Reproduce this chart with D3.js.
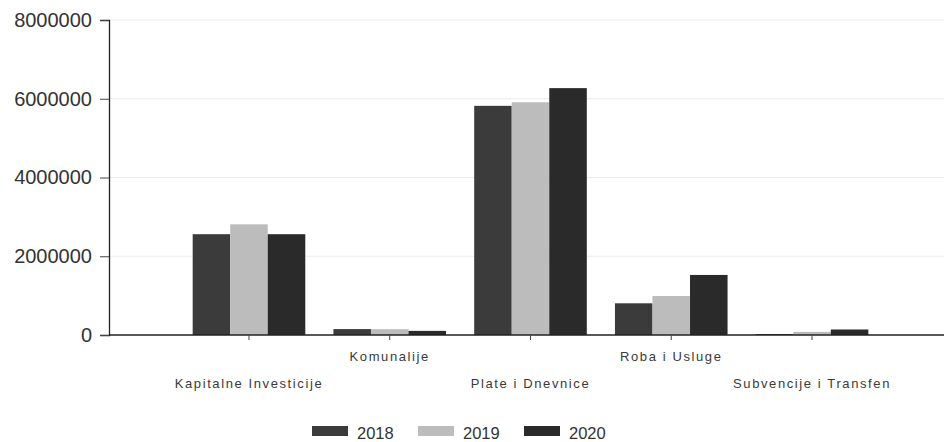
<!DOCTYPE html>
<html>
<head>
<meta charset="utf-8">
<script src="https://cdn.jsdelivr.net/npm/d3@7"></script>
<style>
  html, body { margin: 0; padding: 0; background: #fff; }
  svg { display: block; font-family: "Liberation Sans", Arial, sans-serif; }
</style>
</head>
<body>
<svg id="chart" width="944" height="442"></svg>
<script>
// Budget categories and yearly amounts
const categories = ["Kapitalne Investicije", "Komunalije", "Plate i Dnevnice", "Roba i Usluge", "Subvencije i Transfen"];
const years = ["2018", "2019", "2020"];
const values2018 = [2560000, 150000, 5820000, 805000, 25000];
const values2019 = [2810000, 148000, 5910000, 990000, 80000];
const values2020 = [2560000, 105000, 6270000, 1525000, 140000];
const yTicks = [0, 2000000, 4000000, 6000000, 8000000];
const colors = ["#3b3b3b", "#bcbcbc", "#2a2a2a"];

const seriesValues = [values2018, values2019, values2020];

const svg = d3.select("#chart");
const W = 944, H = 442;
const axisLeft = 109, axisBottom = 335, axisTop = 20;
const bandLeft = 178.6, bandRight = 882.4;

const x = d3.scaleBand().domain(categories).range([bandLeft, bandRight]).paddingInner(0.2).paddingOuter(0.1);
const xSub = d3.scaleBand().domain(years).range([0, x.bandwidth()]).padding(0);
const y = d3.scaleLinear().domain([0, 8000000]).range([axisBottom, axisTop]);

// faint horizontal gridlines
svg.append("g")
  .selectAll("line")
  .data(yTicks.filter(d => d > 0))
  .join("line")
  .attr("x1", axisLeft).attr("x2", W)
  .attr("y1", d => y(d)).attr("y2", d => y(d))
  .attr("stroke", "#ebebeb")
  .attr("stroke-width", 1.2);

// bars
const groups = svg.append("g")
  .selectAll("g")
  .data(categories)
  .join("g")
  .attr("transform", d => `translate(${x(d)},0)`);

groups.selectAll("rect")
  .data((c, i) => years.map((yr, k) => ({ yr, k, v: seriesValues[k][i] })))
  .join("rect")
  .attr("x", d => xSub(d.yr))
  .attr("width", xSub.bandwidth())
  .attr("y", d => y(d.v))
  .attr("height", d => axisBottom - y(d.v))
  .attr("fill", d => colors[d.k]);

// y axis
const yAxis = d3.axisLeft(y).tickValues(yTicks).tickFormat(d3.format("d")).tickSize(9).tickPadding(8);
const gy = svg.append("g").attr("transform", `translate(${axisLeft},0)`).call(yAxis);
gy.select(".domain").attr("stroke", "#222").attr("stroke-width", 1.3);
gy.selectAll(".tick line").attr("stroke", "#444");
gy.selectAll(".tick text")
  .attr("font-size", 20)
  .attr("fill", "#333")
  .attr("font-family", "'Liberation Sans', Arial, sans-serif");

// x axis (baseline spans the full width)
svg.append("line")
  .attr("x1", axisLeft).attr("x2", W)
  .attr("y1", axisBottom).attr("y2", axisBottom)
  .attr("stroke", "#222").attr("stroke-width", 1.5);

const xAxis = d3.axisBottom(x).tickSize(5).tickFormat("");
const gx = svg.append("g").attr("transform", `translate(0,${axisBottom})`).call(xAxis);
gx.select(".domain").remove();
gx.selectAll(".tick line").attr("stroke", "#444");

// staggered category labels
svg.append("g")
  .selectAll("text")
  .data(categories)
  .join("text")
  .attr("x", d => x(d) + x.bandwidth() / 2)
  .attr("y", (d, i) => i % 2 === 0 ? 388 : 361)
  .attr("text-anchor", "middle")
  .attr("font-size", 13)
  .attr("letter-spacing", 1.6)
  .attr("fill", "#3a3a3a")
  .text(d => d);

// legend
const legend = svg.append("g")
  .selectAll("g")
  .data(years)
  .join("g")
  .attr("transform", (d, i) => `translate(${312 + i * 106},426)`);

legend.append("rect")
  .attr("width", 36).attr("height", 10)
  .attr("fill", (d, i) => colors[i]);

legend.append("text")
  .attr("x", 45).attr("y", 13)
  .attr("font-size", 16.5)
  .attr("fill", "#333")
  .text(d => d);
</script>
</body>
</html>
